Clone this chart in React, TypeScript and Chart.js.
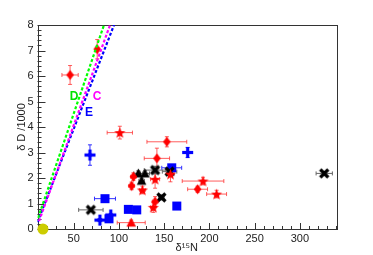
import React, { useEffect, useRef } from 'react';
import { Chart, registerables } from 'chart.js';

Chart.register(...registerables);

// ---- axis ticks ----
const xTickValues = [50, 100, 150, 200, 250, 300];
const yTickValues = [0, 1, 2, 3, 4, 5, 6, 7, 8];

// ---- red diamonds ----
const redDiamondX = [46, 76, 153, 142, 116, 114, 187, 140];
const redDiamondY = [6.04, 7.05, 3.42, 2.77, 2.05, 1.69, 1.56, 1.07];
const redDiamondXErr = [9, 2, 22, 14, 3, 3, 11, 3];
const redDiamondYErr = [0.37, 0.38, 0.2, 0.4, 0.15, 0.15, 0.12, 0.2];

// ---- red stars ----
const redStarX = [101, 193, 208, 126, 138, 140, 157];
const redStarY = [3.78, 1.88, 1.37, 1.53, 0.85, 1.95, 2.15];
const redStarXErr = [14, 23, 11, 3, 3, 5, 4];
const redStarYErr = [0.25, 0.15, 0.15, 0.15, 0.2, 0.35, 0.3];

// ---- red triangle ----
const redTriX = [113.6];
const redTriY = [0.25];
const redTriXErr = [15.5];
const redTriYErr = [0.1];

// ---- black triangles ----
const blackTriX = [121.5, 128.8, 125.1];
const blackTriY = [2.18, 2.18, 1.89];
const blackTriXErr = [5, 5, 3];
const blackTriYErr = [0.1, 0.1, 0.1];

// ---- black crosses ----
const blackXX = [69, 140, 156, 147, 327];
const blackXY = [0.75, 2.31, 2.25, 1.24, 2.18];
const blackXXErr = [13.5, 12, 8, 3, 9];
const blackXYErr = [0.05, 0.15, 0.1, 0.1, 0.05];

// ---- blue plus ----
const bluePlusX = [68, 176, 79, 91];
const bluePlusY = [2.9, 3.0, 0.35, 0.55];
const bluePlusXErr = [1, 1, 2, 1];
const bluePlusYErr = [0.4, 0.2, 0.05, 0.05];

// ---- blue squares ----
const blueSqX = [84.6, 110.4, 119.7, 158.4, 164, 89];
const blueSqY = [1.19, 0.77, 0.75, 2.4, 0.9, 0.4];
const blueSqXErr = [11.6, 3, 3, 11, 3, 1];
const blueSqYErr = [0.05, 0, 0, 0.05, 0, 0];

// ---- yellow point ----
const yellowX = [16];
const yellowY = [0];

// ---- lines (D, C, E) ----
const lineDX = [10.6, 83.5];
const lineDY = [0.43, 8];
const lineCX = [11.7, 90.2];
const lineCY = [0.31, 8];
const lineEX = [10, 94.6];
const lineEY = [0.27, 8];

// ---- line labels ----
const lineLabels = ['D', 'C', 'E'];
const lineLabelX = [50.4, 75.8, 67];
const lineLabelY = [5.18, 5.18, 4.55];
const lineLabelColors = ['#00e000', '#ff00ff', '#0000ff'];

const FONT = "'Liberation Sans', Arial, sans-serif";

function pts(xs: number[], ys: number[]) {
  return xs.map((x, i) => ({ x, y: ys[i] }));
}

function makeMarker(kind: string, color: string): HTMLCanvasElement {
  const c = document.createElement('canvas');
  const s = 13;
  c.width = s;
  c.height = s;
  const g = c.getContext('2d')!;
  const m = s / 2;
  g.fillStyle = color;
  g.strokeStyle = color;
  if (kind === 'diamond') {
    g.beginPath();
    g.moveTo(m, m - 5);
    g.lineTo(m + 3.8, m);
    g.lineTo(m, m + 5);
    g.lineTo(m - 3.8, m);
    g.closePath();
    g.fill();
  } else if (kind === 'star') {
    g.beginPath();
    for (let i = 0; i < 10; i++) {
      const r = i % 2 === 0 ? 5.8 : 2.4;
      const a = -Math.PI / 2 + (i * Math.PI) / 5;
      const px = m + r * Math.cos(a);
      const py = m + r * Math.sin(a) + 0.5;
      if (i === 0) g.moveTo(px, py);
      else g.lineTo(px, py);
    }
    g.closePath();
    g.fill();
  } else if (kind === 'tri') {
    g.beginPath();
    g.moveTo(m, m - 5);
    g.lineTo(m + 4.8, m + 4);
    g.lineTo(m - 4.8, m + 4);
    g.closePath();
    g.fill();
  } else if (kind === 'x') {
    g.lineWidth = 3.2;
    g.beginPath();
    g.moveTo(m - 4, m - 4);
    g.lineTo(m + 4, m + 4);
    g.moveTo(m + 4, m - 4);
    g.lineTo(m - 4, m + 4);
    g.stroke();
  } else if (kind === 'plus') {
    g.fillRect(m - 5.5, m - 1.6, 11, 3.2);
    g.fillRect(m - 1.6, m - 5.5, 3.2, 11);
  } else if (kind === 'square') {
    g.fillRect(m - 4.5, m - 4.5, 9, 9);
  }
  return c;
}

const decorPlugin = {
  id: 'decor',
  beforeDatasetsDraw(chart: any) {
    const { ctx, chartArea: a, scales } = chart;
    const xs = scales.x;
    const ys = scales.y;
    ctx.save();
    // frame
    ctx.strokeStyle = '#333';
    ctx.lineWidth = 1;
    ctx.strokeRect(Math.round(a.left) + 0.5, Math.round(a.top) + 0.5, Math.round(a.right - a.left), Math.round(a.bottom - a.top));
    // x ticks (inward)
    ctx.beginPath();
    for (let v = 10; v <= 340; v += 10) {
      const px = Math.round(xs.getPixelForValue(v)) + 0.5;
      const major = v % 50 === 0;
      ctx.moveTo(px, a.bottom);
      ctx.lineTo(px, a.bottom - (major ? 6 : 3));
    }
    // y ticks
    for (let k = 0; k <= 40; k++) {
      const v = k * 0.2;
      const py = Math.round(ys.getPixelForValue(v)) + 0.5;
      const major = k % 5 === 0;
      ctx.moveTo(a.left, py);
      ctx.lineTo(a.left + (major ? 8 : 4), py);
    }
    ctx.stroke();

    // error bars
    chart.data.datasets.forEach((ds: any) => {
      if (!ds.errX) return;
      ctx.strokeStyle = ds.errColor;
      ctx.lineWidth = 1;
      ctx.beginPath();
      ds.data.forEach((p: any, i: number) => {
        const px = xs.getPixelForValue(p.x);
        const py = ys.getPixelForValue(p.y);
        const ex = ds.errX[i];
        const ey = ds.errY[i];
        if (ex > 0) {
          const x1 = xs.getPixelForValue(p.x - ex);
          const x2 = xs.getPixelForValue(p.x + ex);
          ctx.moveTo(x1, py);
          ctx.lineTo(x2, py);
          ctx.moveTo(x1, py - 2);
          ctx.lineTo(x1, py + 2);
          ctx.moveTo(x2, py - 2);
          ctx.lineTo(x2, py + 2);
        }
        if (ey > 0) {
          const y1 = ys.getPixelForValue(p.y - ey);
          const y2 = ys.getPixelForValue(p.y + ey);
          ctx.moveTo(px, y1);
          ctx.lineTo(px, y2);
          ctx.moveTo(px - 2, y1);
          ctx.lineTo(px + 2, y1);
          ctx.moveTo(px - 2, y2);
          ctx.lineTo(px + 2, y2);
        }
      });
      ctx.stroke();
    });
    ctx.restore();
  },
  afterDatasetsDraw(chart: any) {
    const { ctx, scales } = chart;
    ctx.save();
    ctx.font = `bold 12px ${FONT}`;
    ctx.textAlign = 'center';
    ctx.textBaseline = 'middle';
    lineLabels.forEach((t, i) => {
      ctx.fillStyle = lineLabelColors[i];
      ctx.fillText(t, scales.x.getPixelForValue(lineLabelX[i]), scales.y.getPixelForValue(lineLabelY[i]));
    });
    ctx.restore();
  },
};

export default function App() {
  const ref = useRef<HTMLCanvasElement>(null);
  useEffect(() => {
    document.body.style.margin = '0';
    const markers = {
      diamond: makeMarker('diamond', '#ff0000'),
      star: makeMarker('star', '#ff0000'),
      redTri: makeMarker('tri', '#ff0000'),
      blackTri: makeMarker('tri', '#000000'),
      x: makeMarker('x', '#000000'),
      plus: makeMarker('plus', '#0000ff'),
      square: makeMarker('square', '#0000ff'),
    };
    const lineDs = (xs: number[], ys: number[], color: string) => ({
      data: pts(xs, ys),
      showLine: true,
      borderColor: color,
      borderWidth: 2.2,
      borderDash: [3, 2],
      pointRadius: 0,
      fill: false,
    });
    const markDs = (xs: number[], ys: number[], ex: number[], ey: number[], style: HTMLCanvasElement, errColor: string) => ({
      data: pts(xs, ys),
      pointStyle: style,
      pointRadius: 6,
      errX: ex,
      errY: ey,
      errColor,
    });
    const chart = new Chart(ref.current!, {
      type: 'scatter',
      data: {
        datasets: [
          lineDs(lineDX, lineDY, '#00ff00'),
          lineDs(lineCX, lineCY, '#ff00ff'),
          lineDs(lineEX, lineEY, '#0000ff'),
          markDs(redDiamondX, redDiamondY, redDiamondXErr, redDiamondYErr, markers.diamond, 'rgba(255,40,40,0.75)'),
          markDs(redStarX, redStarY, redStarXErr, redStarYErr, markers.star, 'rgba(255,40,40,0.75)'),
          markDs(redTriX, redTriY, redTriXErr, redTriYErr, markers.redTri, 'rgba(255,40,40,0.75)'),
          markDs(blackTriX, blackTriY, blackTriXErr, blackTriYErr, markers.blackTri, '#666666'),
          markDs(blackXX, blackXY, blackXXErr, blackXYErr, markers.x, '#666666'),
          markDs(bluePlusX, bluePlusY, bluePlusXErr, bluePlusYErr, markers.plus, '#3030ff'),
          markDs(blueSqX, blueSqY, blueSqXErr, blueSqYErr, markers.square, '#3030ff'),
          {
            data: pts(yellowX, yellowY),
            pointStyle: 'circle',
            pointRadius: 5.5,
            backgroundColor: '#cccc00',
            borderColor: '#cccc00',
            borderWidth: 0,
            clip: false,
          },
        ] as any,
      },
      options: {
        animation: false,
        responsive: false,
        layout: { padding: { left: 0, top: 25, right: 37, bottom: 0 } },
        plugins: { legend: { display: false }, tooltip: { enabled: false } },
        scales: {
          x: {
            type: 'linear',
            min: 10,
            max: 340,
            grid: { display: false, drawTicks: false },
            border: { display: false },
            afterBuildTicks: (s: any) => {
              s.ticks = xTickValues.map((v) => ({ value: v }));
            },
            afterFit: (s: any) => {
              s.height = 26;
            },
            ticks: {
              font: { family: FONT, size: 11 },
              color: '#222',
              padding: 3,
              maxRotation: 0,
              autoSkip: false,
            },
            title: {
              display: true,
              text: 'δ¹⁵N',
              font: { family: FONT, size: 11 },
              color: '#222',
              padding: { top: 3, bottom: 0 },
            },
          },
          y: {
            type: 'linear',
            min: 0,
            max: 8,
            grid: { display: false, drawTicks: false },
            border: { display: false },
            afterBuildTicks: (s: any) => {
              s.ticks = yTickValues.map((v) => ({ value: v }));
            },
            afterFit: (s: any) => {
              s.width = 37.5;
            },
            ticks: {
              font: { family: FONT, size: 11 },
              color: '#222',
              padding: 4,
              autoSkip: false,
            },
            title: {
              display: true,
              text: 'δ D /1000',
              font: { family: FONT, size: 11 },
              color: '#222',
              padding: { top: 15, bottom: 0 },
            },
          },
        },
      } as any,
      plugins: [decorPlugin],
    });
    return () => chart.destroy();
  }, []);
  return (
    <div style={{ position: 'fixed', left: 0, top: 0, width: 373, height: 255 }}>
      <canvas ref={ref} width={373} height={255} style={{ display: 'block', width: 373, height: 255 }} />
    </div>
  );
}
